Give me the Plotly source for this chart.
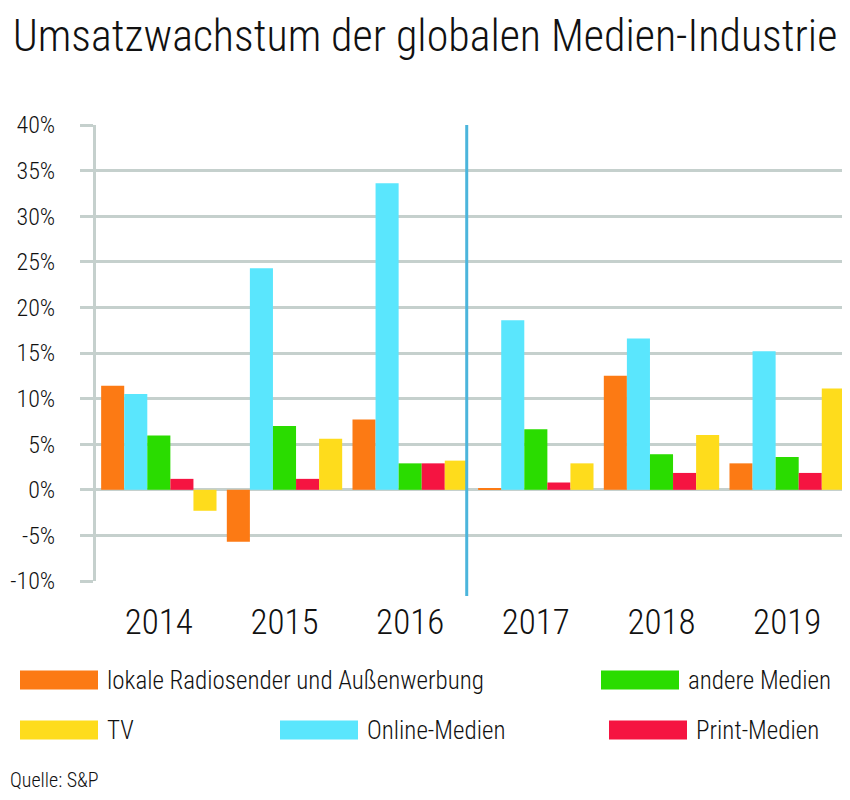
import plotly.graph_objects as go

years = ["2014", "2015", "2016", "2017", "2018", "2019"]

lokale_radio = [11.4, -5.7, 7.7, 0.1, 12.5, 2.9]
online = [10.5, 24.3, 33.6, 18.6, 16.6, 15.2]
andere = [5.95, 7.0, 2.9, 6.65, 3.9, 3.6]
print_medien = [1.2, 1.2, 2.9, 0.8, 1.85, 1.85]
tv = [-2.3, 5.6, 3.2, 2.9, 6.0, 11.1]

y_ticks = [-10, -5, 0, 5, 10, 15, 20, 25, 30, 35, 40]
y_ticktext = [f"{v}%" for v in y_ticks]

series = [
    ("lokale Radiosender und Außenwerbung", lokale_radio, "#FC7A14"),
    ("Online-Medien", online, "#5AE6FD"),
    ("andere Medien", andere, "#2ADC00"),
    ("Print-Medien", print_medien, "#F51441"),
    ("TV", tv, "#FEDC1C"),
]

FONT = "Roboto Condensed, Liberation Sans, sans-serif"
GRID = "#C5D0CD"
OFF = 8  # page body margin of the browser
W, H = 850 - OFF, 800 - OFF
ML, MR, MT, MB = 96 - OFF, 0, 125 - OFF, H - (581 - OFF)

fig = go.Figure()
for name, vals, col in series:
    fig.add_trace(go.Bar(x=years, y=vals, name=name, marker_color=col,
                         marker_line_width=0, showlegend=False))

def px_x(px):
    return (px - OFF - ML) / (W - ML - MR)

def px_y(py):
    return (H - MB - (py - OFF)) / (H - MT - MB)

shapes = []
annotations = []

# divider between 2016 and 2017
shapes.append(dict(type="line", xref="x", yref="paper", x0=2.45, x1=2.45,
                   y0=px_y(596), y1=1, line=dict(color="#4BB5DC", width=3)))

# custom legend layout
legend_items = [
    ("lokale Radiosender und Außenwerbung", "#FC7A14", 20, 680),
    ("andere Medien", "#2ADC00", 601, 680),
    ("TV", "#FEDC1C", 20, 730),
    ("Online-Medien", "#5AE6FD", 280, 730),
    ("Print-Medien", "#F51441", 609, 730),
]
for text, col, lx, ly in legend_items:
    shapes.append(dict(type="rect", xref="paper", yref="paper",
                       x0=px_x(lx), x1=px_x(lx + 78),
                       y0=px_y(ly + 9.5), y1=px_y(ly - 9.5),
                       fillcolor=col, line=dict(width=0)))
    annotations.append(dict(xref="paper", yref="paper", x=px_x(lx + 85), y=px_y(ly),
                            text=text, showarrow=False, xanchor="left", yanchor="middle",
                            font=dict(family=FONT, size=25, weight=300, color="#111111")))

annotations.append(dict(xref="paper", yref="paper", x=px_x(8), y=px_y(780),
                        text="Quelle: S&P", showarrow=False, xanchor="left", yanchor="middle",
                        font=dict(family=FONT, size=20, weight=300, color="#111111")))

fig.update_layout(
    width=W, height=H,
    margin=dict(l=ML, r=MR, t=MT, b=MB, autoexpand=False),
    paper_bgcolor="white", plot_bgcolor="white",
    barmode="group", bargap=0.082, bargroupgap=0,
    title=dict(text="Umsatzwachstum der globalen Medien-Industrie",
               x=(425 - OFF) / W, xref="container", xanchor="center",
               y=1 - (36 - OFF) / H, yref="container", yanchor="middle",
               font=dict(family=FONT, size=44, weight=300, color="#111111")),
    shapes=shapes, annotations=annotations,
    xaxis=dict(type="category", range=[-0.5, 5.5], showgrid=False, zeroline=False,
               showline=False, ticks="", ticklabelstandoff=17, automargin=False,
               tickfont=dict(family=FONT, size=35, weight=300, color="#111111")),
    yaxis=dict(range=[-10, 40], tickvals=y_ticks, ticktext=y_ticktext,
               showgrid=True, gridcolor=GRID, gridwidth=3, zeroline=False,
               showline=True, linecolor=GRID, linewidth=3, automargin=False,
               ticks="outside", ticklen=13, tickwidth=3, tickcolor=GRID,
               ticklabelstandoff=20,
               tickfont=dict(family=FONT, size=24, weight=300, color="#111111")),
)

fig.write_html("out.html")
